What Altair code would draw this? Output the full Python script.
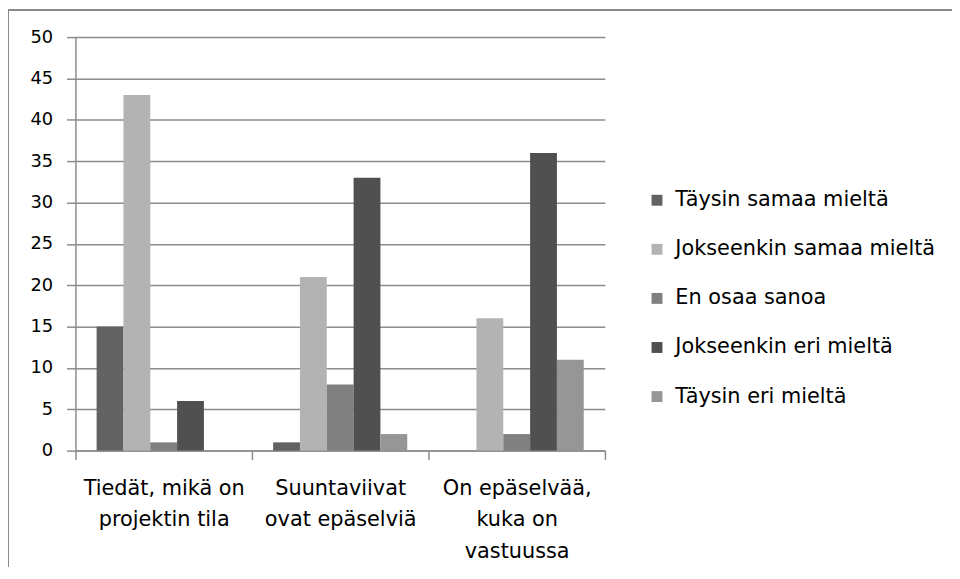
import altair as alt
import pandas as pd

categories = [
    "Tiedät, mikä on\nprojektin tila",
    "Suuntaviivat\novat epäselviä",
    "On epäselvää,\nkuka on\nvastuussa",
]
series = [
    "Täysin samaa mieltä",
    "Jokseenkin samaa mieltä",
    "En osaa sanoa",
    "Jokseenkin eri mieltä",
    "Täysin eri mieltä",
]
values = [
    [15, 1, 0],
    [43, 21, 16],
    [1, 8, 2],
    [6, 33, 36],
    [0, 2, 11],
]
colors = ["#626262", "#b3b3b3", "#808080", "#505050", "#969696"]
y_ticks = [0, 5, 10, 15, 20, 25, 30, 35, 40, 45, 50]

rows = []
for s, vals in zip(series, values):
    for c, v in zip(categories, vals):
        rows.append({"cat": c, "series": s, "value": v})
df = pd.DataFrame(rows)

W, H = 534, 417
FONT = "DejaVu Sans"
LINE = "#8c8c8c"

bars = alt.Chart(df).mark_bar().encode(
    x=alt.X(
        "cat:N",
        sort=categories,
        scale=alt.Scale(paddingInner=0, paddingOuter=0),
        axis=alt.Axis(
            title=None,
            labelAngle=0,
            labelExpr="split(datum.label, '\\n')",
            labelFont=FONT,
            labelFontSize=21,
            labelColor="#000000",
            labelBaseline="top",
            labelLineHeight=32,
            labelPadding=18,
            tickBand="extent",
            tickSize=9,
            tickWidth=1.5,
            tickColor=LINE,
            domainColor=LINE,
            domainWidth=1.5,
            grid=False,
        ),
    ),
    xOffset=alt.XOffset(
        "series:N",
        sort=series,
        scale=alt.Scale(paddingOuter=0.79, paddingInner=0),
    ),
    y=alt.Y(
        "value:Q",
        scale=alt.Scale(domain=[0, 50], nice=False),
        axis=alt.Axis(
            title=None,
            values=y_ticks,
            labelFont=FONT,
            labelFontSize=18,
            labelColor="#000000",
            labelPadding=14,
            tickSize=9,
            tickWidth=1.5,
            tickColor=LINE,
            domainColor=LINE,
            domainWidth=1.5,
            gridColor=LINE,
            gridWidth=1.5,
        ),
    ),
    color=alt.Color(
        "series:N",
        sort=series,
        scale=alt.Scale(domain=series, range=colors),
        legend=alt.Legend(
            title=None,
            orient="none",
            legendX=576,
            legendY=154,
            padding=0,
            symbolType="square",
            symbolSize=121,
            symbolStrokeWidth=0,
            labelFont=FONT,
            labelFontSize=21,
            labelColor="#000000",
            labelOffset=8,
            labelLimit=0,
            rowPadding=27.5,
        ),
    ),
)

border_left = alt.Chart(df).mark_rule(stroke="#8c8c8c", strokeWidth=1).encode(
    x=alt.value(-67.5),
    y=alt.value(-27.5),
    y2=alt.value(H + 200),
)
border_top = alt.Chart(df).mark_rule(stroke="#8c8c8c", strokeWidth=1).encode(
    x=alt.value(-67.5),
    x2=alt.value(W + 400),
    y=alt.value(-27.5),
)

chart = alt.layer(bars, border_left, border_top).properties(
    width=W,
    height=H,
    autosize=alt.AutoSizeParams(type="none"),
    padding={"left": 68, "top": 27, "right": 350, "bottom": 115},
).configure_view(strokeWidth=0)

chart.save("out.html", embed_options={"renderer": "svg", "actions": False})
